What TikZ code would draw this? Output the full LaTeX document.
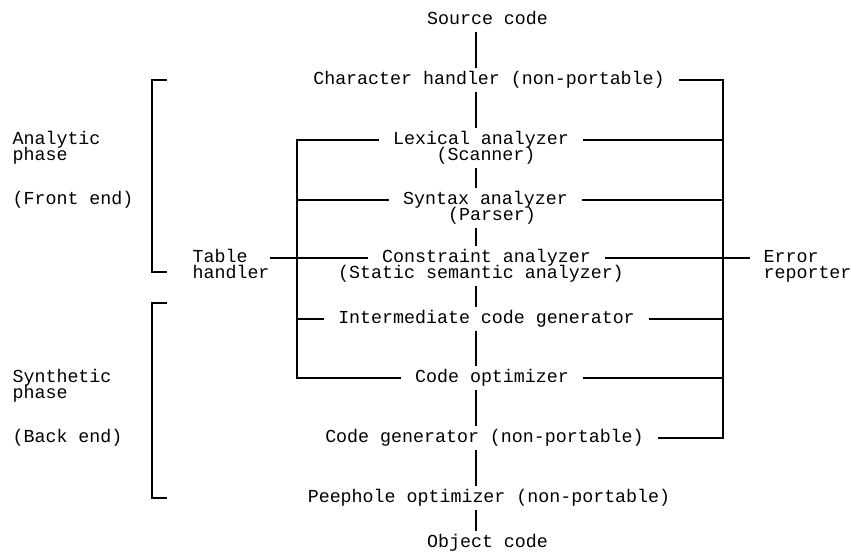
\documentclass[tikz,border=0pt]{standalone}
\usepackage{fontspec}
\setmonofont{Liberation Mono}
\usetikzlibrary{positioning}

\begin{document}
\begin{tikzpicture}[
    x=1pt, y=-1pt, line width=1.2pt,
    lbl/.style={font=\ttfamily\fontsize{18.3}{15}\selectfont, text height=11pt, text depth=2pt, inner xsep=14pt, inner ysep=1pt},
    side/.style={lbl, anchor=west, inner xsep=0pt},
    link/.style={shorten <=3.5pt, shorten >=3.5pt}
]
    \useasboundingbox (0,0) rectangle (851,552);
    \coordinate (spine) at (476,0);
    \coordinate (tbus) at (297,0);
    \coordinate (ebus) at (723,0);

    % Main chain (phases)
    \node[lbl] (src) at (487.5,20) {Source code};
    \node[lbl] (chr) at (489,80) {Character handler (non-portable)};
    \node[lbl] (lex) at (481,140) {Lexical analyzer};
    \node[lbl, below=0pt of lex, xshift=5pt] (lexb) {(Scanner)};
    \node[lbl] (syn) at (485.5,200) {Syntax analyzer};
    \node[lbl, below=0pt of syn, xshift=6.5pt] (synb) {(Parser)};
    \node[lbl] (con) at (486.5,258) {Constraint analyzer};
    \node[lbl, below=0pt of con, xshift=-5.5pt] (conb) {(Static semantic analyzer)};
    \node[lbl] (icg) at (486.5,319) {Intermediate code generator};
    \node[lbl] (opt) at (492,378) {Code optimizer};
    \node[lbl] (gen) at (484.5,438) {Code generator (non-portable)};
    \node[lbl] (peep) at (489,498) {Peephole optimizer (non-portable)};
    \node[lbl] (obj) at (487.5,543) {Object code};

    % Side labels
    \node[side] (ana) at (12,140) {Analytic};
    \node[side, anchor=north west] (anab) at (ana.south west) {phase};
    \node[side] (front) at (12,200) {(Front end)};
    \node[side] (syns) at (12,378) {Synthetic};
    \node[side, anchor=north west] (synsb) at (syns.south west) {phase};
    \node[side] (back) at (12,438) {(Back end)};
    \node[side] (tab) at (192,258) {Table};
    \node[side, anchor=north west] (tabb) at (tab.south west) {handler};
    \node[side] (err) at (763,258) {Error};
    \node[side, anchor=north west] (errb) at (err.south west) {reporter};

    % Spine
    \foreach \a/\b in {src/chr, chr/lex, lexb/syn, synb/con, conb/icg, icg/opt, opt/gen, gen/peep, peep/obj}
        \draw[link] (\a.south -| spine) -- (\b.north -| spine);

    % Table handler bus
    \draw (lex.west) -- (lex.west -| tbus) |- (opt.west);
    \foreach \n in {syn, icg}
        \draw (\n.west -| tbus) -- (\n.west);
    \draw (tabb.east |- tab) -- (con.west);

    % Error reporter bus
    \draw (chr.east) -| (ebus |- gen.east) -- (gen.east);
    \foreach \n in {lex, syn, icg, opt}
        \draw (\n.east) -- (\n.east -| ebus);
    \draw (con.east) -- ([xshift=-13pt]err.west);

    % Phase brackets
    \draw (167,80) -| (152,272) -- (167,272);
    \draw (167,303) -| (152,498) -- (167,498);
\end{tikzpicture}
\end{document}
